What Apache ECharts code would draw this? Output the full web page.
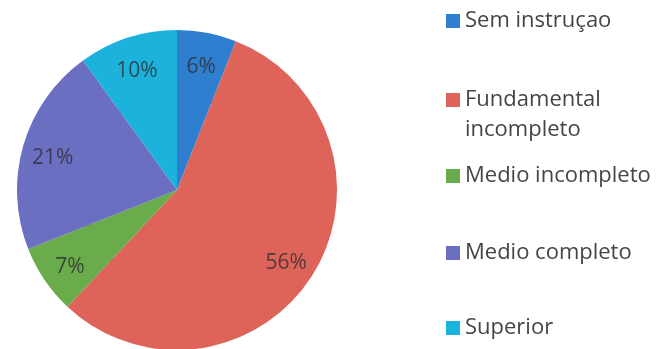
<!DOCTYPE html>
<html>
<head>
<meta charset="utf-8">
<script src="https://cdn.jsdelivr.net/npm/echarts@6/dist/echarts.min.js"></script>
<style>
  html, body { margin: 0; padding: 0; background: #ffffff; }
  #chart { width: 660px; height: 349px; }
</style>
</head>
<body>
<div id="chart"></div>
<script>
// Escolaridade: categories, shares (%) and slice colours
const categories = ['Sem instruçao', 'Fundamental\nincompleto', 'Medio incompleto', 'Medio completo', 'Superior'];
const shares = [6, 56, 7, 21, 10];
const colors = ['#2f7fd0', '#de6459', '#6aab4b', '#6b6fc2', '#1cb2dc'];

const FONT = '"Open Sans", sans-serif';
const CENTER = [177, 190];
const R = 160;

const pieData = categories.map((name, i) => ({
  name: name,
  value: shares[i],
  itemStyle: { color: colors[i] }
}));

// one legend block per entry, so each row sits on its own first line
const legendRows = [21, 100, 176, 253, 328];
const LINE = 30;
const legends = categories.map((name, i) => {
  const multi = name.indexOf('\n') >= 0;
  return {
    data: [name],
    orient: 'vertical',
    left: 446,
    top: legendRows[i] - (multi ? 1.5 : 0.5) * LINE,
    icon: 'rect',
    itemWidth: 14,
    itemHeight: 14,
    padding: 0,
    selectedMode: false,
    // a leading blank line keeps the icon level with the first text line
    formatter: multi ? (n => '\n' + n) : '{name}',
    textStyle: {
      fontFamily: FONT,
      fontSize: 22,
      color: '#454545',
      lineHeight: LINE
    }
  };
});

const chart = echarts.init(document.getElementById('chart'), null, { renderer: 'canvas' });
chart.setOption({
  backgroundColor: '#ffffff',
  animation: false,
  legend: legends,
  series: [
    {
      // solid core of the pie
      type: 'pie',
      center: CENTER,
      radius: [0, R * 0.62],
      startAngle: 90,
      clockwise: true,
      silent: true,
      label: { show: false },
      labelLine: { show: false },
      data: pieData
    },
    {
      // outer ring carrying the percentage labels
      type: 'pie',
      center: CENTER,
      radius: [R * 0.58, R],
      startAngle: 90,
      clockwise: true,
      silent: true,
      label: {
        show: true,
        position: 'inside',
        formatter: '{c}%',
        fontFamily: FONT,
        fontSize: 21,
        offset: [0, 4],
        color: 'rgba(45,45,50,0.78)'
      },
      labelLine: { show: false },
      data: pieData
    }
  ]
});
</script>
</body>
</html>
